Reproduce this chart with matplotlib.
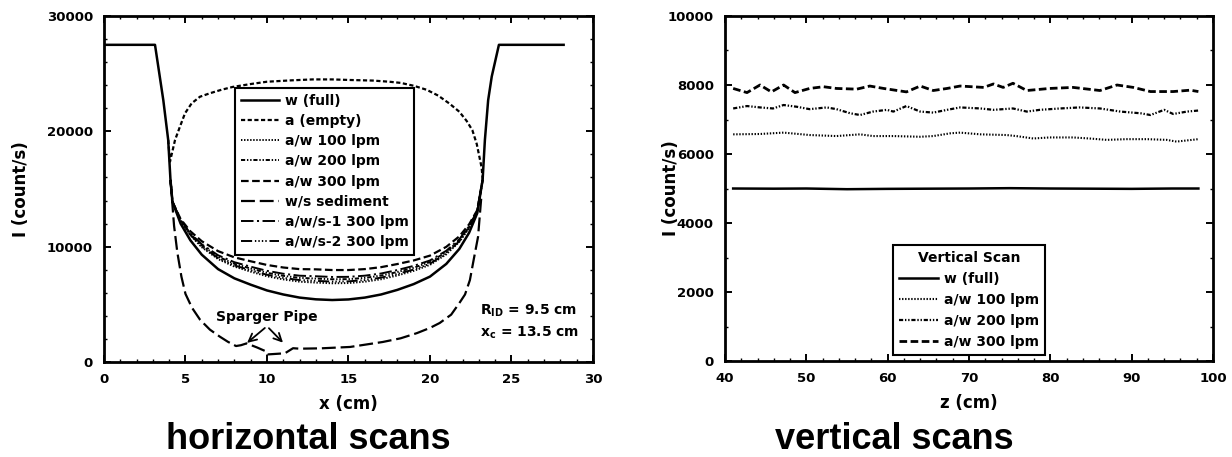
import matplotlib
matplotlib.use("Agg")
import matplotlib.pyplot as plt
from matplotlib.ticker import MultipleLocator

plt.rcParams['font.family'] = ['DejaVu Sans']
plt.rcParams['font.weight'] = 'bold'
plt.rcParams['axes.labelweight'] = 'bold'
plt.rcParams['mathtext.default'] = 'bf'
plt.rcParams['lines.scale_dashes'] = False

# ---- horizontal scans data (x in cm, I in counts/s) ----
x_full = [0.0, 3.13, 3.64, 3.94, 4.08, 4.2, 4.7, 5.3, 6.0, 7.0, 8.0, 9.0, 10.0, 11.0, 12.0,
          13.0, 14.0, 15.0, 16.0, 17.0, 18.0, 19.0, 20.0, 21.0, 21.8, 22.4, 22.9,
          23.23, 23.37, 23.57, 23.79, 24.23, 28.2]
w_full = [27500, 27500, 22700, 19250, 15780, 13900, 12000, 10550, 9300, 8050, 7250, 6700,
          6200, 5850, 5580, 5430, 5370, 5420, 5580, 5850, 6250, 6750, 7400, 8500, 9800,
          11200, 12900, 15780, 19250, 22700, 24750, 27500, 27500]

x_empty = [3.94, 4.05, 4.36, 4.66, 4.97, 5.38, 5.89, 6.5, 7.2, 7.9, 9.0, 10.0, 11.5, 12.8,
           14.0, 15.1, 16.5, 17.5, 18.2, 19.0, 19.8, 20.5, 21.2, 21.8, 22.25, 22.6, 22.87,
           23.17, 23.25]
a_empty = [19250, 17370, 19250, 20400, 21560, 22430, 23000, 23300, 23600, 23850, 24100,
           24300, 24420, 24500, 24500, 24450, 24400, 24300, 24200, 23950, 23600, 23100,
           22400, 21700, 20900, 20100, 18900, 16850, 15600]

x_mix = [4.08, 4.2, 4.7, 5.3, 6.0, 7.0, 8.0, 9.0, 10.0, 11.0, 12.0, 13.0, 14.0, 15.0, 16.0,
         17.0, 18.0, 19.0, 20.0, 21.0, 21.8, 22.4, 22.9, 23.23]
aw_100 = [15780, 13900, 12220, 10990, 9950, 8920, 8270, 7830, 7430, 7160, 6960, 6880, 6820,
          6840, 6960, 7170, 7500, 7900, 8420, 9330, 10410, 11610, 13050, 15780]
aw_200 = [15780, 13900, 12270, 11090, 10110, 9130, 8510, 8100, 7730, 7470, 7290, 7230, 7170,
          7180, 7290, 7490, 7800, 8170, 8660, 9530, 10560, 11700, 13080, 15780]
aw_300 = [15780, 13900, 12390, 11330, 10470, 9610, 9070, 8730, 8410, 8190, 8050, 8030, 7970,
          7970, 8050, 8220, 8490, 8800, 9220, 9980, 10890, 11930, 13160, 15780]
aws1_300 = [15780, 13900, 12300, 11150, 10200, 9250, 8650, 8260, 7900, 7650, 7480, 7430, 7370,
            7380, 7480, 7670, 7970, 8330, 8800, 9640, 10640, 11760, 13100, 15780]
aws2_300 = [15780, 13900, 12240, 11030, 10020, 9010, 8370, 7950, 7560, 7290, 7100, 7030, 6970,
            6990, 7100, 7310, 7630, 8010, 8520, 9410, 10470, 11650, 13060, 15780]

x_sed = [4.08, 4.3, 4.5, 4.75, 5.0, 5.4, 5.9, 6.5, 7.1, 7.6, 8.1, 8.4, 8.75, 9.4, 9.98, 10.02,
         11.1, 11.6, 12.0, 13.3, 15.1, 17.1, 18.2, 19.2, 20.0, 20.6, 21.3, 21.8, 22.15, 22.45,
         22.66, 22.95, 23.15]
ws_sed = [15780, 11800, 9500, 7400, 5900, 4700, 3650, 2800, 2200, 1750, 1380, 1450, 1610, 1250,
          890, 650, 750, 1190, 1150, 1180, 1300, 1730, 2050, 2500, 2950, 3380, 4100, 5100, 5850,
          7100, 8700, 10850, 14300]

# ---- vertical scans data (z in cm) ----
z_full = [41.0, 46.0, 50.0, 55.0, 60.0, 65.0, 70.0, 75.0, 80.0, 85.0, 90.0, 95.0, 98.2]
v_full = [5000, 4995, 5000, 4980, 4990, 4995, 5000, 5010, 5000, 4995, 4990, 5000, 5000]

z_100 = [41.0, 44.3, 47.2, 50.4, 53.7, 56.6, 58.2, 60.7, 64.0, 65.6, 67.7, 68.9, 71.4, 74.6,
         75.8, 77.9, 79.9, 82.8, 84.8, 86.9, 89.4, 91.9, 94.3, 95.5, 98.2]
v_100 = [6570, 6580, 6620, 6550, 6520, 6570, 6520, 6520, 6500, 6520, 6600, 6620, 6570, 6550,
         6520, 6450, 6480, 6480, 6450, 6410, 6430, 6430, 6410, 6360, 6430]

z_200 = [41.0, 42.7, 44.3, 45.9, 47.2, 48.8, 50.4, 52.5, 53.7, 55.4, 56.6, 58.2, 59.9, 60.7,
         62.3, 64.0, 65.6, 67.3, 68.9, 71.4, 73.0, 75.4, 77.1, 78.7, 81.2, 83.6, 86.1, 88.6,
         91.1, 92.3, 94.0, 95.1, 96.8, 98.2]
v_200 = [7320, 7390, 7350, 7320, 7420, 7370, 7300, 7350, 7300, 7180, 7130, 7230, 7280, 7230,
         7390, 7230, 7200, 7280, 7350, 7320, 7280, 7320, 7230, 7280, 7320, 7350, 7320, 7230,
         7180, 7130, 7280, 7160, 7230, 7260]

z_300 = [41.0, 42.7, 44.3, 45.7, 47.2, 48.6, 50.4, 52.1, 53.7, 56.2, 57.8, 59.5, 62.3, 64.0,
         65.6, 67.3, 68.9, 71.8, 73.0, 74.2, 75.4, 77.1, 79.9, 82.8, 86.1, 88.2, 90.2, 92.3,
         95.1, 97.2, 98.2]
v_300 = [7900, 7780, 8000, 7800, 8000, 7780, 7900, 7950, 7900, 7880, 7970, 7900, 7800, 7970,
         7840, 7900, 7970, 7930, 8030, 7930, 8050, 7840, 7900, 7930, 7840, 8000, 7930, 7810,
         7810, 7850, 7810]

# line styles (dashes in points)
DOT = (0, (1.0, 1.2))
SHORT = (0, (3.0, 1.8))
DDOT = (0, (3.0, 1.3, 1.0, 1.3, 1.0, 1.3))
MED = (0, (5.5, 2.5))
LONG = (0, (10.0, 3.5))
LDASHDOT = (0, (9.0, 2.5, 1.5, 2.5))
LDOTS = (0, (8.0, 2.0, 1.0, 1.5, 1.0, 1.5, 1.0, 1.5, 1.0, 2.0))

fig = plt.figure(figsize=(12.32, 4.57), dpi=100)
ax1 = fig.add_axes([0.0844, 0.208, 0.3969, 0.757])
ax2 = fig.add_axes([0.5885, 0.210, 0.3961, 0.755])


def style_axes(ax):
    for s in ax.spines.values():
        s.set_linewidth(2.0)
    ax.tick_params(which='both', direction='in', top=True, right=True, labelsize=9.5, pad=8)
    ax.tick_params(which='major', length=5, width=1.4)
    ax.tick_params(which='minor', length=2.5, width=1.0)


# left panel
ax1.plot(x_full, w_full, color='black', lw=1.8, label='w (full)')
ax1.plot(x_empty, a_empty, color='black', lw=1.6, ls=SHORT, label='a (empty)')
ax1.plot(x_mix, aw_100, color='black', lw=1.4, ls=DOT, label='a/w 100 lpm')
ax1.plot(x_mix, aw_200, color='black', lw=1.4, ls=DDOT, label='a/w 200 lpm')
ax1.plot(x_mix, aw_300, color='black', lw=1.6, ls=MED, label='a/w 300 lpm')
ax1.plot(x_sed, ws_sed, color='black', lw=1.6, ls=LONG, label='w/s sediment')
ax1.plot(x_mix, aws1_300, color='black', lw=1.4, ls=LDASHDOT, label='a/w/s-1 300 lpm')
ax1.plot(x_mix, aws2_300, color='black', lw=1.4, ls=LDOTS, label='a/w/s-2 300 lpm')

ax1.set_xlim(0, 30)
ax1.set_ylim(0, 30000)
ax1.xaxis.set_major_locator(MultipleLocator(5))
ax1.xaxis.set_minor_locator(MultipleLocator(1))
ax1.yaxis.set_major_locator(MultipleLocator(10000))
ax1.yaxis.set_minor_locator(MultipleLocator(2000))
style_axes(ax1)
ax1.set_xlabel('x (cm)', fontsize=12)
ax1.set_ylabel('I (count/s)', fontsize=12)
ax1.xaxis.set_label_coords(0.5, -0.095)
ax1.yaxis.set_label_coords(-0.151, 0.5)

leg1 = ax1.legend(loc='upper left', bbox_to_anchor=(0.268, 0.792), fontsize=10,
                  frameon=True, fancybox=False, edgecolor='black', framealpha=1,
                  handlelength=2.8, handletextpad=0.4, labelspacing=0.45,
                  borderpad=0.4, borderaxespad=0)
leg1.get_frame().set_linewidth(1.5)

ax1.text(10.0, 3900, 'Sparger Pipe', ha='center', va='center', fontsize=10)
for tip in (8.65, 11.1):
    ax1.annotate('', xy=(tip, 1500), xytext=(10.0, 3100),
                 arrowprops=dict(arrowstyle='->', color='black', lw=1.3,
                                 mutation_scale=14))
ax1.text(23.05, 4400, r'R$_{\mathbf{ID}}$ = 9.5 cm', ha='left', va='center', fontsize=10)
ax1.text(23.05, 2500, r'x$_{\mathbf{c}}$ = 13.5 cm', ha='left', va='center', fontsize=10)

# right panel
ax2.plot(z_full, v_full, color='black', lw=1.8, label='w (full)')
ax2.plot(z_100, v_100, color='black', lw=1.5, ls=DOT, label='a/w 100 lpm')
ax2.plot(z_200, v_200, color='black', lw=1.6, ls=DDOT, label='a/w 200 lpm')
ax2.plot(z_300, v_300, color='black', lw=2.0, ls=MED, label='a/w 300 lpm')

ax2.set_xlim(40, 100)
ax2.set_ylim(0, 10000)
ax2.xaxis.set_major_locator(MultipleLocator(10))
ax2.xaxis.set_minor_locator(MultipleLocator(2))
ax2.yaxis.set_major_locator(MultipleLocator(2000))
ax2.yaxis.set_minor_locator(MultipleLocator(1000))
style_axes(ax2)
ax2.set_xlabel('z (cm)', fontsize=12)
ax2.set_ylabel('I (count/s)', fontsize=12)
ax2.xaxis.set_label_coords(0.5, -0.095)
ax2.yaxis.set_label_coords(-0.092, 0.5)

leg2 = ax2.legend(loc='upper left', bbox_to_anchor=(0.344, 0.336), fontsize=10,
                  title='Vertical Scan', title_fontproperties={'weight': 'bold', 'size': 10},
                  frameon=True, fancybox=False, edgecolor='black', framealpha=1,
                  handlelength=2.8, handletextpad=0.4, labelspacing=0.5,
                  borderpad=0.45, borderaxespad=0)
leg2.get_frame().set_linewidth(1.5)

fig.text(0.25, 0.018, 'horizontal scans', ha='center', va='baseline', fontsize=26,
         fontweight='bold', family=['Liberation Sans', 'DejaVu Sans'])
fig.text(0.726, 0.018, 'vertical scans', ha='center', va='baseline', fontsize=26,
         fontweight='bold', family=['Liberation Sans', 'DejaVu Sans'])

fig.savefig('out.png', dpi=100)
